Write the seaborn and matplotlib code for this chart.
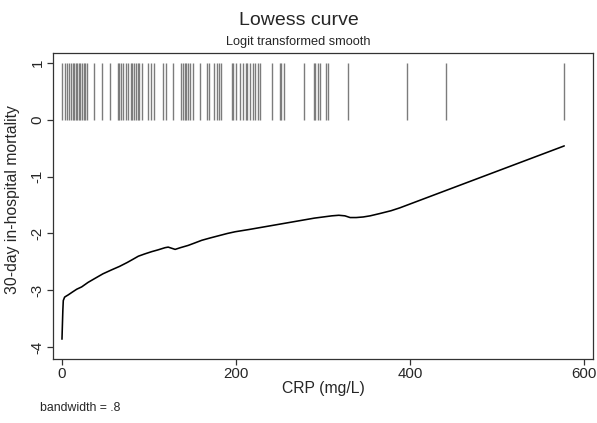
import numpy as np
import pandas as pd
import matplotlib
matplotlib.use("Agg")
import matplotlib.pyplot as plt
import seaborn as sns

# Observed CRP values (mg/L) of patients, shown as the 0/1 outcome strips
crp_obs = [0.3, 3.4, 5.3, 8, 10, 13, 14, 15.6, 17, 19, 20.5, 23, 25, 27, 29,
           37, 46, 55, 64, 66, 68, 70, 73, 76, 79.5, 80.5, 83, 85, 87, 89, 92,
           98.7, 102, 105.5, 116, 119.6, 128, 137, 139, 141, 143, 145, 147.4,
           151, 159, 166.5, 169, 175, 178, 180, 182.5, 195, 197, 199.6, 205,
           208, 211, 213, 216, 220, 221.7, 224.7, 227, 241.5, 249.9, 252,
           254.9, 278, 289, 291, 294, 296, 303, 306, 328, 396, 441, 577]

# Lowess smooth on the logit scale
crp_curve = [0, 0.5, 1.0, 1.5, 3, 5, 7.2, 12, 17, 22.6, 30, 37.9, 47, 57, 66,
             75, 82, 87.7, 95, 103, 110, 118.4, 122, 126, 130, 136, 145, 152,
             160.6, 170, 180, 190, 198.9, 215, 230, 245, 260, 275, 290, 300,
             310, 318, 325, 331, 338, 346, 354, 365, 378, 388, 577]
logit_curve = [-3.86, -3.6, -3.35, -3.18, -3.12, -3.10, -3.08, -3.03, -2.98,
               -2.94, -2.86, -2.79, -2.71, -2.64, -2.58, -2.51, -2.45, -2.40,
               -2.36, -2.32, -2.29, -2.25, -2.24, -2.26, -2.28, -2.25, -2.21,
               -2.17, -2.12, -2.08, -2.04, -2.00, -1.97, -1.93, -1.89, -1.85,
               -1.81, -1.77, -1.73, -1.71, -1.69, -1.68, -1.69, -1.72, -1.72,
               -1.71, -1.69, -1.65, -1.60, -1.55, -0.46]

sns.set_style("ticks")
plt.rcParams["font.family"] = ["Liberation Sans", "DejaVu Sans"]

fig = plt.figure(figsize=(5.97, 4.23), dpi=100)
ax = fig.add_axes([0.0888, 0.151, 0.9045, 0.724])

# outcome strips: one vertical line per observation from 0 to 1
ax.vlines(crp_obs, 0, 1, colors="#7c7c7c", linewidth=1.0)

curve = pd.DataFrame({"crp": crp_curve, "logit": logit_curve})
sns.lineplot(data=curve, x="crp", y="logit", color="black", linewidth=1.15,
             ax=ax, sort=False)

ax.set_xlim(-10.3, 610)
ax.set_ylim(-4.21, 1.176)
ax.set_xticks([0, 200, 400, 600])
ax.set_yticks([-4, -3, -2, -1, 0, 1])
ax.set_yticklabels(["-4", "-3", "-2", "-1", "0", "1"], rotation=90, va="center")
ax.tick_params(axis="both", labelsize=10.8, length=4, width=0.9,
               color="#333333", direction="out", pad=2.0)

for side in ["top", "right", "left", "bottom"]:
    ax.spines[side].set_visible(True)
    ax.spines[side].set_color("#333333")
    ax.spines[side].set_linewidth(0.9)

ax.set_xlabel("CRP (mg/L)", fontsize=11.3, labelpad=0)
ax.set_ylabel("30-day in-hospital mortality", fontsize=11.3, labelpad=3)
ax.yaxis.set_label_coords(-0.062, 0.52)

fig.text(0.5, 0.952, "Lowess curve", ha="center", va="center", fontsize=14)
fig.text(0.5, 0.900, "Logit transformed smooth", ha="center", va="center",
         fontsize=9.2)
fig.text(0.067, 0.035, "bandwidth = .8", ha="left", va="center", fontsize=8.8)

fig.savefig("out.png", dpi=100)
